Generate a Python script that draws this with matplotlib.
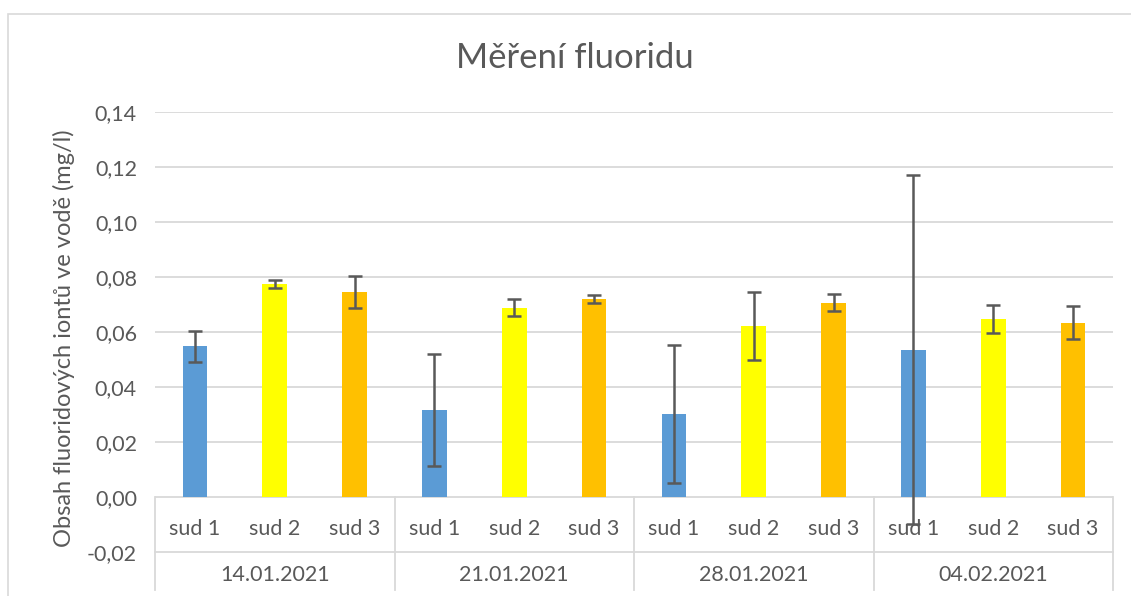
import numpy as np
import matplotlib
matplotlib.use('Agg')
from matplotlib import pyplot as plt
from matplotlib.lines import Line2D
from matplotlib.patches import Rectangle
from matplotlib.transforms import blended_transform_factory

plt.rcParams['font.family'] = ['Lato', 'DejaVu Sans']

# data
dates = ['14.01.2021', '21.01.2021', '28.01.2021', '04.02.2021']
barrels = ['sud 1', 'sud 2', 'sud 3']
means = [
    [0.0548, 0.0775, 0.0745],
    [0.0316, 0.0688, 0.0720],
    [0.0302, 0.0621, 0.0707],
    [0.0536, 0.0647, 0.0633],
]
errors = [
    [0.0057, 0.0015, 0.0058],
    [0.0203, 0.0031, 0.0013],
    [0.0251, 0.0124, 0.0030],
    [0.0634, 0.0050, 0.0060],
]
barrel_colors = ['#5B9BD5', '#FFFF00', '#FFC000']
y_ticks = np.arange(-0.02, 0.1401, 0.02)

TEXT = '#595959'
GRID = '#D9D9D9'

W, H = 1131, 596
fig = plt.figure(figsize=(W / 100, H / 100), dpi=100)

# chart frame (Excel chart area border)
fig.patches.append(Rectangle((8 / W, -0.1), 1.2, 1 - 14 / H + 0.1, transform=fig.transFigure,
                             fill=False, edgecolor=GRID, linewidth=1.2))

ax = fig.add_axes([155 / W, 1 - 552 / H, (1113 - 155) / W, (552 - 112) / H])
n_bar = len(barrels)
n_cat = len(dates) * n_bar
ax.set_xlim(0, n_cat)
ax.set_ylim(-0.02, 0.14)

for spine in ax.spines.values():
    spine.set_visible(False)

ax.set_yticks(y_ticks)
ax.set_yticklabels([f'{v:.2f}'.replace('.', ',') for v in y_ticks], fontsize=15.5, color=TEXT)
ax.tick_params(axis='y', length=0, pad=13)
ax.set_xticks([])
for v in y_ticks:
    if v > 0.001:
        ax.axhline(v, color=GRID, linewidth=1.3, zorder=0)
ax.axhline(0, color=GRID, linewidth=1.3, zorder=1)
ax.axhline(-0.02, color=GRID, linewidth=1.3, zorder=1, clip_on=False)

for g, date in enumerate(dates):
    xs = g * n_bar + np.arange(n_bar) + 0.5
    ax.bar(xs, means[g], width=0.31, color=barrel_colors, zorder=2)
    ax.errorbar(xs, means[g], yerr=errors[g], fmt='none', ecolor='#595959',
                elinewidth=1.8, capsize=5, capthick=1.8, zorder=3, clip_on=False)
    for x, name in zip(xs, barrels):
        ax.text(x, -0.0117, name, ha='center', va='center', fontsize=15.5, color=TEXT)
    ax.text(g * n_bar + n_bar / 2, -0.052, date, ha='center', va='center', fontsize=15.5,
            color=TEXT, transform=blended_transform_factory(ax.transData, ax.transAxes))

# group separators of the category table
trans = blended_transform_factory(ax.transData, ax.transAxes)
for g in range(len(dates) + 1):
    ax.add_line(Line2D([g * n_bar, g * n_bar], [0.125, -0.087], transform=trans,
                       color=GRID, linewidth=1.3, clip_on=False))

ax.set_ylabel('Obsah fluoridových iontů ve vodě (mg/l)', fontsize=17, color=TEXT)
ax.yaxis.set_label_coords(-80 / (1113 - 155), 0.485)

fig.text(575 / W, 1 - 58 / H, 'Měření fluoridu', ha='center', va='center', fontsize=25, color=TEXT)

fig.savefig('out.png', dpi=100)
